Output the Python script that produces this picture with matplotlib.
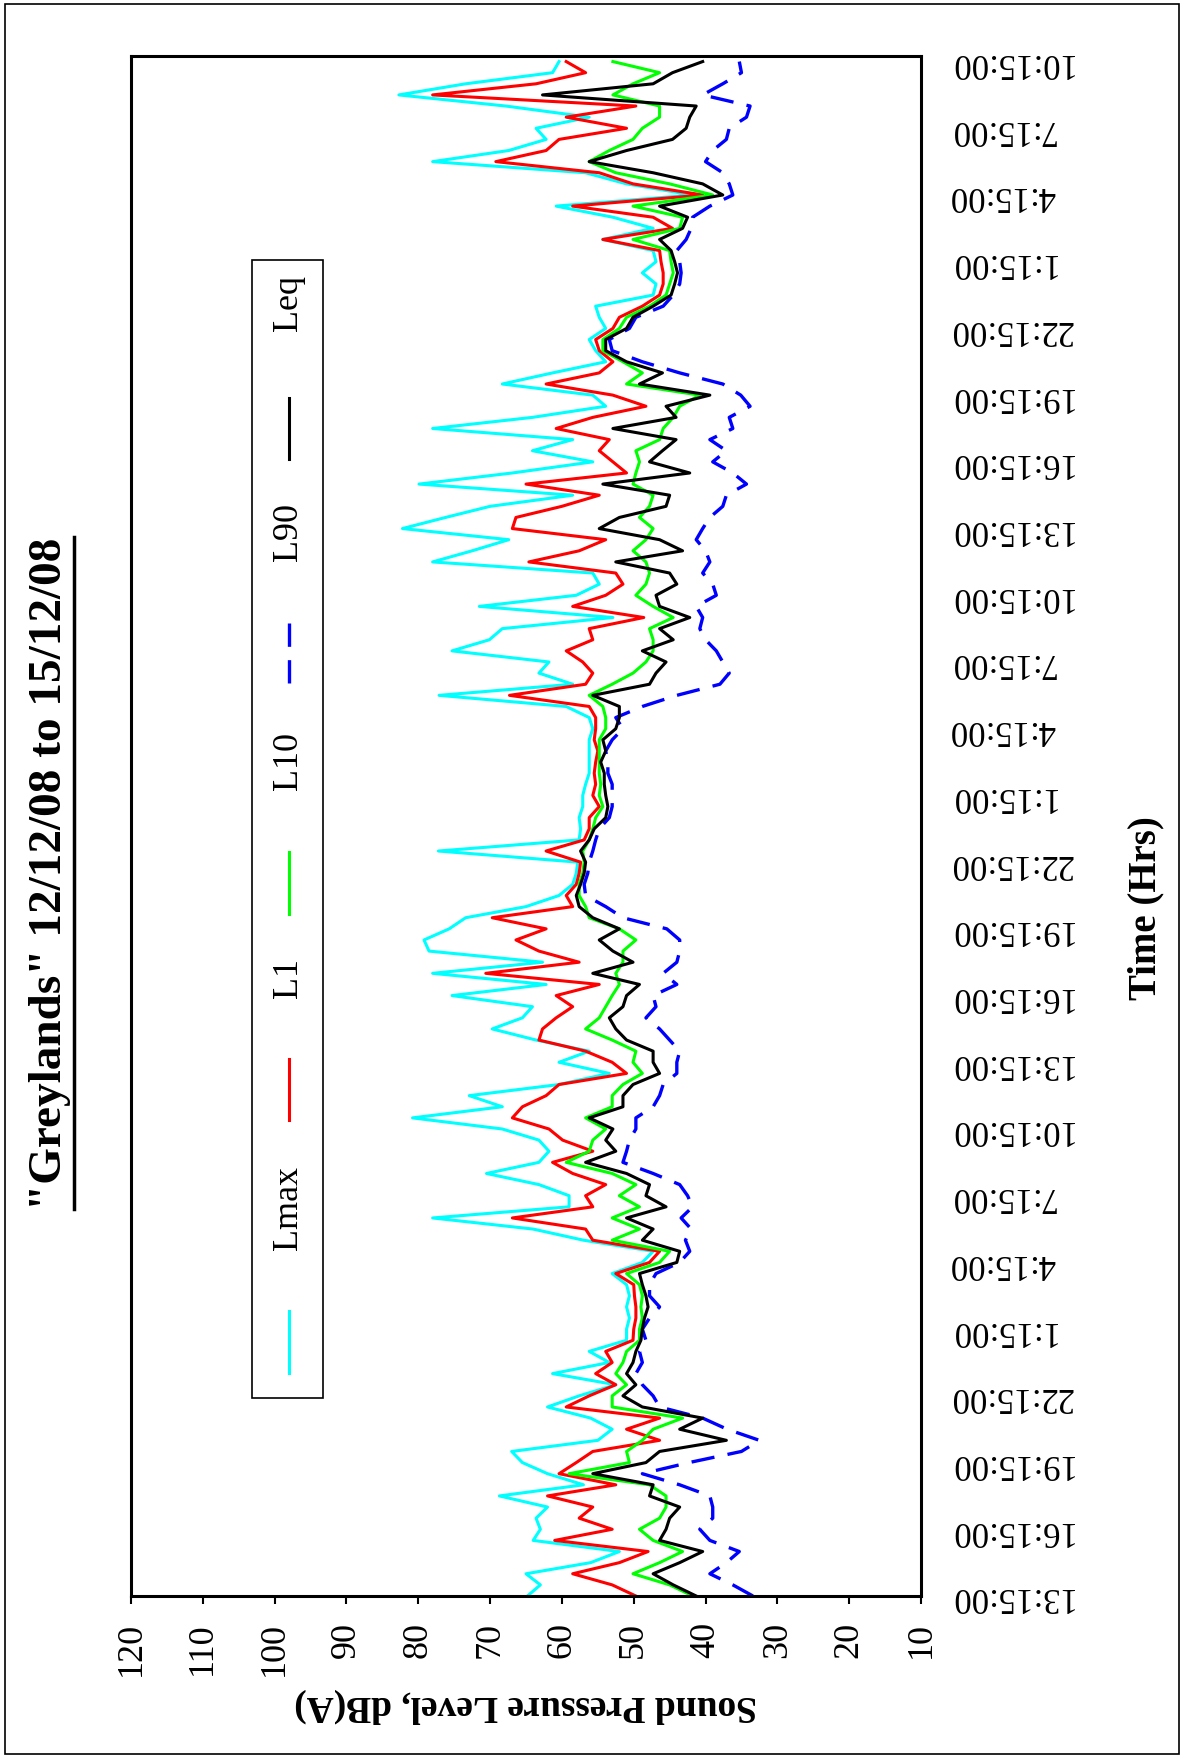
# Greylands noise monitoring chart, drawn in the rotated (portrait) layout
import matplotlib.pyplot as plt
from matplotlib.lines import Line2D
from matplotlib.patches import Rectangle
import numpy as np

plt.rcParams['font.family'] = ['Liberation Serif', 'DejaVu Serif']

# half-hourly samples starting 13:15 on 12/12/08
hours = np.arange(139) * 0.5

lmax = [64.8, 63, 65, 56, 52, 64, 63, 63.6, 62, 68.7, 57, 62, 65.5, 67, 55, 53, 56, 62,
        57.6, 52.5, 61.3, 53.4, 56.2, 51, 51, 50.6, 51, 50.6, 51, 53, 48.8, 47.3,
        57, 64, 78, 59, 59, 63.2, 70.5, 63.2, 61.8, 63.2, 68.3, 80.8, 68.3,
        72.9, 60.4, 53.4, 60.4, 56.2, 63.6, 69.7, 65.5, 64.1, 75.3, 62.2, 78, 62.7, 78.5,
        79.2, 75.7, 73.4, 65, 60.4, 58.5, 58, 57.8, 77.2, 57.6, 57.4, 57.6, 57.1,
        57.1, 56.7, 56.2, 56.2, 56.2, 56.2, 55.7, 56.2, 59.4, 77.1, 58.5, 63.2, 61.8, 75.3,
        70.1, 68.3, 52.9, 71.5, 58, 54.8, 55.7, 78, 72.5, 67.4, 82.2, 76.2, 70,
        58.5, 79.9, 66.9, 55.7, 64.1, 58.5, 78, 64.1, 53.9, 55.7, 68.3, 61.3, 53.9, 55.3,
        56.2, 53.9, 54.8, 55.3, 47.3, 46.9, 48.8, 46.9, 47.3, 54.3, 47.3, 52.9, 60.8,
        41.8, 51, 56.7, 78, 67.4, 62.2, 63.6, 56.2, 67.8, 82.7, 73.4, 61.3, 60.4]

l1 = [49.7, 53, 58.5, 52, 48, 61, 53, 57.6, 55.7, 62, 52.5, 60.4, 58, 55.7, 46.4, 51, 46.4, 59.4,
      56.2, 52.5, 55.3, 53, 53.9, 50.1, 50, 49.7, 49.7, 49.9, 50, 52.5, 47.8, 46.4,
      55.7, 56.7, 66.9, 55.7, 56.7, 53.9, 58.5, 61.3, 55.7, 59.9, 61.8, 66.9, 65.5,
      62.2, 60.4, 51, 53, 56.7, 63.2, 62.7, 60.8, 58.5, 60.8, 54.8, 70.6, 57.6, 63.2,
      66.4, 62.2, 69.7, 58.5, 59.4, 58, 57.6, 57.4, 62.2, 56.9, 56.2, 56.2, 54.8,
      55.7, 55.3, 55.5, 55.3, 55, 55.5, 55.3, 55.3, 56.2, 67.3, 56.7, 55.7, 57.1, 59.4,
      55.7, 56.2, 48.6, 58.5, 53.9, 51.5, 52.5, 64.6, 57.6, 53.9, 66.9, 66.4, 60,
      54.8, 65, 51, 52.9, 54.8, 53.4, 60.8, 55.7, 48.3, 52.9, 62.2, 54.8, 52.9, 54.8,
      55.3, 52.9, 52, 48.8, 46.4, 45.9, 45.9, 46.2, 46.4, 54.3, 44.6, 47.3, 58.5,
      40.4, 50.1, 54.8, 69.2, 62.2, 60.4, 51, 59.4, 49.7, 78, 63.6, 56.7, 59.4]

l10 = [41.8, 45, 50.1, 46.4, 43.2, 47.3, 49.2, 46.4, 45.5, 45.5, 47.8, 59, 50.6, 51, 48.8, 47.3, 43.2, 53,
       53, 51, 52.5, 51.5, 51, 49.2, 49.2, 48.8, 49, 48.8, 49.2, 51, 46.4, 45,
       53, 49.2, 53, 49.2, 52, 49.7, 53, 59.4, 56.2, 55.7, 53.9, 56.7, 53,
       53, 51.5, 48.8, 50.1, 49.7, 53, 56.7, 54.8, 53.9, 53, 52, 52.5, 51.5, 51.5,
       49.7, 52, 56.2, 56.7, 57.6, 57.6, 57.1, 56.9, 57.1, 56.2, 55.7, 55.3, 54.3,
       54.8, 54.6, 54.8, 54.8, 54.8, 54.8, 53.9, 53.9, 54.3, 56.2, 53, 50.1, 48.3, 47.3,
       47.3, 47.8, 44.5, 47.3, 49.7, 48.3, 47.8, 48.3, 50.1, 48.3, 47.3, 49.2, 47.8,
       47.3, 50.1, 49.7, 49.2, 49.7, 46.4, 45.9, 44.5, 43.6, 40.8, 51, 48.8, 51.5, 54.3,
       54.3, 52, 51, 47.8, 45.5, 45, 44.5, 44.8, 45, 50.1, 43.6, 43.2, 50.1,
       39, 45, 52.5, 56.2, 53.4, 50.1, 48.8, 46.4, 46.4, 52.9, 50.1, 46.4, 52.9]

l90 = [33.4, 36.2, 39.4, 37.1, 35.3, 39.4, 40.8, 39, 39, 39.4, 43.6, 48.8, 42.3, 35, 32.5, 37, 40.4, 46.4,
       47.3, 48.8, 49.7, 48.8, 49.2, 48.3, 48.8, 47.8, 46.4, 47.8, 47.8, 46.9, 43.6, 42.2,
       42.8, 42, 43.4, 41.8, 42.5, 43.6, 47.3, 51.5, 51, 50.6, 49.7, 49.7, 47.3,
       46.4, 45.9, 44, 44, 43.6, 45, 46.4, 48.3, 46.9, 47.3, 44, 45.9, 44, 43.6,
       43.6, 45.4, 51.5, 53.9, 56.7, 56.9, 56.4, 56.2, 55.7, 55.3, 54.8, 53.4, 53,
       53, 53, 53.6, 53.6, 53.9, 53, 51.5, 52.5, 48.8, 44, 38, 36.7, 37.6, 38.5,
       40, 40.8, 40.4, 41.3, 38.5, 39, 40.4, 39.4, 40, 41.3, 40.4, 39.4, 37.6,
       37.1, 34.3, 36.2, 39, 37.1, 39.4, 36.2, 36.7, 33.8, 35.1, 37.6, 43.6, 48.8, 53,
       53.4, 50.6, 49.7, 45.9, 44.5, 43.6, 43.4, 43.6, 44, 42.7, 42, 41.8, 39.4,
       36.2, 36.7, 37.6, 40, 39, 37.1, 36.7, 34.3, 33.8, 40.4, 37.6, 35, 35.3]

leq = [41.3, 44.5, 47.3, 43.6, 40.4, 46.4, 45.5, 45, 43.6, 47.8, 47.3, 55.7, 48.3, 46.4, 37.1, 43.6, 40.4, 48.8,
       51.5, 49.7, 51, 50.1, 49.7, 49, 48.8, 48.5, 48, 48.3, 48.8, 49.2, 44, 43.6,
       48.8, 47.3, 51, 45.5, 48.3, 47.8, 51, 56.7, 52.5, 53.9, 52.9, 56.2, 51.5,
       51.5, 50.1, 46.4, 47.3, 47.3, 51, 52.5, 53.4, 51.5, 51, 49.2, 55.7, 50.1, 52.9,
       54.8, 52, 55.7, 57.6, 58, 57.4, 56.9, 56.7, 57.4, 56.2, 55.5, 53.9, 53.6,
       53.9, 54.1, 54.1, 54.6, 53.9, 54.3, 52.5, 52, 52, 55.7, 47.8, 46.9, 45.5, 48.8,
       44.5, 46.4, 42.2, 46.4, 46.9, 44, 45, 52.5, 43.2, 46.4, 54.8, 52, 45.5,
       45, 54.3, 42.2, 47.8, 46, 44.1, 52.9, 44.1, 45.5, 39.4, 49.2, 46, 51, 53.9,
       53.9, 51, 50.1, 47.3, 44.8, 44.3, 43.9, 44.3, 44.8, 46.4, 43.2, 42.5, 46.4,
       37.6, 40.4, 47.3, 56.2, 51, 44.6, 42.7, 42.2, 41.3, 62.7, 47.3, 44.6, 40.4]

series_names = ['Lmax', 'L1', 'L10', 'L90', 'Leq']
series_colors = ['#00FFFF', '#FF0000', '#00FF00', '#0000FF', '#000000']

tick_hours = np.arange(0, 70, 3)
tick_labels = ['13:15:00', '16:15:00', '19:15:00', '22:15:00',
               '1:15:00', '4:15:00', '7:15:00', '10:15:00'] * 3

fig = plt.figure(figsize=(11.86, 17.58), dpi=100)
W, H = 1186, 1758
ax = fig.add_axes([131 / W, 161 / H, 790 / W, 1540 / H])

for vals, name, col in zip([lmax, l1, l10, l90, leq], series_names, series_colors):
    if name == 'L90':
        ax.plot(vals, hours, color=col, lw=2.4, dashes=(7, 4))
    else:
        ax.plot(vals, hours, color=col, lw=2.2)

ax.set_xlim(120, 10)
ax.set_ylim(0, 69.25)
ax.set_xticks(np.arange(10, 121, 10))
ax.tick_params(axis='x', direction='out', length=6, width=1.5,
               labelsize=26, labelrotation=90, pad=12)
ax.yaxis.tick_right()
ax.set_yticks(tick_hours)
ax.set_yticklabels(tick_labels, rotation=180, va='center')
ax.tick_params(axis='y', length=0, labelsize=25, pad=20)
for sp in ax.spines.values():
    sp.set_linewidth(2.2)

fig.text(526 / W, 1 - 1706 / H, 'Sound Pressure Level, dB(A)', rotation=180,
         ha='center', va='center', fontsize=27, fontweight='bold')
fig.text(1146 / W, 1 - 908 / H, 'Time (Hrs)', rotation=90,
         ha='center', va='center', fontsize=28, fontweight='bold')
title = fig.text(50 / W, 1 - 874 / H, '"Greylands" 12/12/08 to 15/12/08', rotation=90,
                 ha='center', va='center', fontsize=34, fontweight='bold')

# legend box, laid out by hand because the entries are rotated
ax.add_patch(Rectangle((0.153, 0.1286), 0.09, 0.739, transform=ax.transAxes,
                       fill=True, facecolor='white', edgecolor='black', lw=1.2, zorder=5))
leg_line_y = [0.145, 0.309, 0.443, 0.593, 0.738]
leg_text_y = [0.225, 0.389, 0.524, 0.673, 0.822]
for name, col, ly, ty in zip(series_names, series_colors, leg_line_y, leg_text_y):
    ln = Line2D([0.2, 0.2], [ly, ly + 0.04], transform=ax.transAxes, color=col,
                lw=2.4 if name == 'L90' else 2.2, zorder=6)
    if name == 'L90':
        ln.set_dashes((7, 4))
    ax.add_line(ln)
    ax.text(0.2, ty, name, transform=ax.transAxes, rotation=90, ha='center',
            va='bottom', fontsize=26, zorder=6)

# outer frame
fig.patches.append(Rectangle((5 / W, 3 / H), 1174 / W, 1750 / H, transform=fig.transFigure,
                             fill=False, edgecolor='black', lw=1.2))

# underline the title
fig.canvas.draw()
bb = title.get_window_extent().transformed(fig.transFigure.inverted())
fig.add_artist(Line2D([bb.x1 + 3 / W, bb.x1 + 3 / W], [bb.y0, bb.y1],
                      transform=fig.transFigure, color='black', lw=2.5))

fig.savefig('out.png', dpi=100)
